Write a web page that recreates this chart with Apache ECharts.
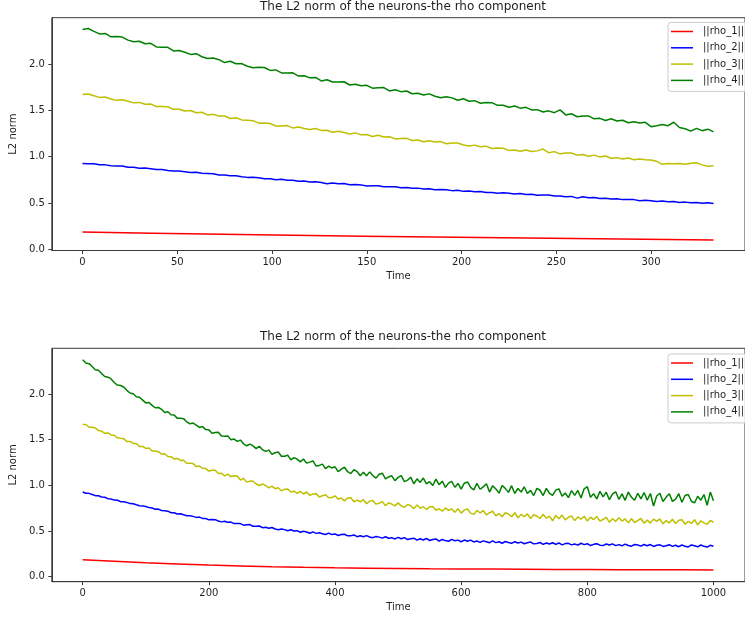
<!DOCTYPE html>
<html>
<head>
<meta charset="utf-8">
<script src="https://cdn.jsdelivr.net/npm/echarts@6/dist/echarts.min.js"></script>
<style>
  html, body { margin: 0; padding: 0; background: #ffffff; }
  #chart { width: 745px; height: 618px; }
</style>
</head>
<body>
<div id="chart"></div>
<script>
// Labels and ticks
const chartTitle = 'The L2 norm of the neurons-the rho component';
const seriesNames = ['||rho_1||', '||rho_2||', '||rho_3||', '||rho_4||'];
const seriesColors = ['#ff0000', '#0000ff', '#bfbf00', '#008000'];
const yTicks = [0, 0.5, 1, 1.5, 2];
const topXTicks = [0, 50, 100, 150, 200, 250, 300];
const bottomXTicks = [0, 200, 400, 600, 800, 1000];

// Upper panel: sampled every 3 time units (t = 0 .. 333)
const topStep = 3;
const topRho4 = [
  2.372, 2.383, 2.353, 2.325, 2.330, 2.294, 2.296, 2.291, 2.258, 2.240,
  2.246, 2.219, 2.223, 2.185, 2.180, 2.180, 2.141, 2.146, 2.127, 2.104,
  2.112, 2.079, 2.059, 2.065, 2.047, 2.016, 2.030, 2.003, 2.005, 1.976,
  1.961, 1.966, 1.963, 1.931, 1.937, 1.904, 1.902, 1.905, 1.870, 1.873,
  1.851, 1.855, 1.818, 1.831, 1.806, 1.806, 1.809, 1.774, 1.782, 1.765,
  1.770, 1.740, 1.745, 1.746, 1.710, 1.723, 1.702, 1.709, 1.679, 1.685,
  1.665, 1.678, 1.653, 1.636, 1.648, 1.635, 1.609, 1.625, 1.599, 1.605,
  1.577, 1.586, 1.583, 1.554, 1.556, 1.533, 1.547, 1.524, 1.533, 1.505,
  1.508, 1.483, 1.495, 1.475, 1.505, 1.451, 1.464, 1.431, 1.440, 1.440,
  1.409, 1.414, 1.391, 1.409, 1.385, 1.394, 1.366, 1.378, 1.363, 1.371,
  1.324, 1.335, 1.347, 1.335, 1.372, 1.315, 1.302, 1.276, 1.306, 1.281,
  1.297, 1.268
];
const topRho3 = [
  1.672, 1.677, 1.658, 1.640, 1.645, 1.623, 1.608, 1.614, 1.599, 1.581,
  1.586, 1.567, 1.568, 1.542, 1.542, 1.539, 1.511, 1.513, 1.494, 1.498,
  1.474, 1.480, 1.451, 1.457, 1.440, 1.439, 1.413, 1.421, 1.397, 1.393,
  1.389, 1.362, 1.363, 1.358, 1.332, 1.331, 1.336, 1.311, 1.320, 1.305,
  1.293, 1.304, 1.284, 1.286, 1.264, 1.274, 1.262, 1.246, 1.257, 1.236,
  1.239, 1.219, 1.232, 1.212, 1.215, 1.192, 1.197, 1.198, 1.175, 1.181,
  1.161, 1.172, 1.158, 1.163, 1.140, 1.147, 1.148, 1.127, 1.115, 1.125,
  1.107, 1.114, 1.088, 1.093, 1.091, 1.068, 1.073, 1.058, 1.072, 1.057,
  1.063, 1.083, 1.043, 1.055, 1.031, 1.040, 1.040, 1.017, 1.023, 1.005,
  1.017, 0.998, 1.008, 0.984, 0.990, 0.976, 0.987, 0.968, 0.975, 0.967,
  0.964, 0.950, 0.918, 0.926, 0.924, 0.927, 0.919, 0.930, 0.935, 0.912,
  0.897, 0.902
];
const topRho2 = [
  0.928, 0.924, 0.923, 0.913, 0.912, 0.902, 0.901, 0.899, 0.887, 0.886,
  0.875, 0.877, 0.870, 0.861, 0.863, 0.852, 0.845, 0.847, 0.839, 0.830,
  0.832, 0.821, 0.820, 0.816, 0.803, 0.803, 0.794, 0.795, 0.785, 0.777,
  0.779, 0.774, 0.762, 0.761, 0.752, 0.756, 0.746, 0.746, 0.735, 0.737,
  0.728, 0.731, 0.722, 0.709, 0.717, 0.708, 0.710, 0.698, 0.699, 0.696,
  0.685, 0.688, 0.686, 0.676, 0.676, 0.676, 0.664, 0.667, 0.659, 0.661,
  0.651, 0.655, 0.643, 0.645, 0.643, 0.634, 0.637, 0.626, 0.629, 0.622,
  0.624, 0.614, 0.615, 0.606, 0.610, 0.605, 0.597, 0.602, 0.592, 0.594,
  0.584, 0.587, 0.586, 0.576, 0.577, 0.569, 0.572, 0.553, 0.567, 0.557,
  0.559, 0.549, 0.552, 0.545, 0.547, 0.537, 0.538, 0.537, 0.526, 0.529,
  0.526, 0.517, 0.521, 0.514, 0.517, 0.507, 0.510, 0.503, 0.507, 0.498,
  0.502, 0.494
];
const topRho1Time = [0, 37, 74, 111, 148, 185, 222, 259, 296, 333];
const topRho1 = [0.187, 0.174, 0.162, 0.152, 0.143, 0.134, 0.126, 0.118, 0.110, 0.101];

// Lower panel: sampled every 5 time units (t = 0 .. 1000)
const bottomStep = 5;
const bottomRho4 = [
  2.374, 2.340, 2.332, 2.300, 2.266, 2.259, 2.223, 2.192, 2.184, 2.165,
  2.126, 2.097, 2.093, 2.076, 2.040, 2.011, 2.003, 1.970, 1.964, 1.933,
  1.902, 1.907, 1.875, 1.849, 1.853, 1.832, 1.797, 1.806, 1.773, 1.769,
  1.733, 1.734, 1.730, 1.694, 1.674, 1.682, 1.659, 1.634, 1.644, 1.610,
  1.608, 1.570, 1.579, 1.582, 1.540, 1.536, 1.541, 1.498, 1.506, 1.481,
  1.495, 1.455, 1.433, 1.452, 1.432, 1.402, 1.428, 1.390, 1.371, 1.386,
  1.339, 1.357, 1.365, 1.319, 1.318, 1.330, 1.278, 1.304, 1.286, 1.257,
  1.288, 1.243, 1.254, 1.267, 1.211, 1.218, 1.232, 1.183, 1.210, 1.190,
  1.203, 1.149, 1.177, 1.198, 1.149, 1.129, 1.171, 1.151, 1.105, 1.144,
  1.105, 1.147, 1.107, 1.079, 1.121, 1.133, 1.071, 1.092, 1.104, 1.051,
  1.087, 1.107, 1.040, 1.057, 1.089, 1.017, 1.071, 1.032, 1.080, 1.017,
  1.040, 0.998, 1.067, 1.007, 1.045, 0.978, 1.024, 1.043, 0.979, 1.021,
  0.959, 1.023, 1.037, 0.977, 0.951, 1.021, 0.957, 0.983, 1.017, 0.926,
  0.996, 0.959, 0.915, 0.998, 0.967, 0.923, 0.996, 0.911, 0.965, 0.927,
  0.984, 0.910, 0.945, 0.888, 0.967, 0.946, 0.888, 0.967, 0.913, 0.889,
  0.947, 0.961, 0.880, 0.916, 0.865, 0.943, 0.889, 0.944, 0.862, 0.962,
  0.985, 0.869, 0.909, 0.851, 0.934, 0.873, 0.925, 0.843, 0.906, 0.929,
  0.847, 0.906, 0.836, 0.926, 0.869, 0.837, 0.913, 0.851, 0.921, 0.837,
  0.910, 0.774, 0.883, 0.913, 0.822, 0.871, 0.908, 0.824, 0.850, 0.908,
  0.815, 0.889, 0.900, 0.826, 0.808, 0.880, 0.837, 0.899, 0.782, 0.926,
  0.830
];
const bottomRho3 = [
  1.667, 1.666, 1.636, 1.635, 1.628, 1.599, 1.594, 1.569, 1.573, 1.552,
  1.548, 1.520, 1.515, 1.511, 1.479, 1.480, 1.458, 1.458, 1.426, 1.426,
  1.404, 1.408, 1.375, 1.375, 1.368, 1.343, 1.346, 1.315, 1.314, 1.287,
  1.294, 1.272, 1.274, 1.242, 1.243, 1.238, 1.205, 1.211, 1.187, 1.183,
  1.156, 1.166, 1.166, 1.130, 1.132, 1.104, 1.122, 1.096, 1.104, 1.102,
  1.058, 1.076, 1.035, 1.046, 1.045, 1.015, 0.998, 1.015, 0.996, 0.972,
  0.991, 0.963, 0.973, 0.940, 0.956, 0.960, 0.927, 0.936, 0.911, 0.933,
  0.905, 0.927, 0.890, 0.906, 0.909, 0.873, 0.886, 0.896, 0.864, 0.866,
  0.885, 0.849, 0.862, 0.830, 0.862, 0.864, 0.820, 0.838, 0.820, 0.843,
  0.799, 0.827, 0.835, 0.794, 0.803, 0.822, 0.777, 0.809, 0.794, 0.775,
  0.808, 0.774, 0.758, 0.791, 0.776, 0.745, 0.785, 0.749, 0.766, 0.735,
  0.764, 0.769, 0.727, 0.744, 0.716, 0.753, 0.726, 0.741, 0.706, 0.743,
  0.696, 0.728, 0.741, 0.696, 0.682, 0.725, 0.698, 0.724, 0.677, 0.700,
  0.716, 0.666, 0.690, 0.656, 0.699, 0.686, 0.657, 0.700, 0.645, 0.681,
  0.657, 0.688, 0.636, 0.678, 0.662, 0.637, 0.683, 0.641, 0.663, 0.612,
  0.670, 0.633, 0.674, 0.621, 0.650, 0.665, 0.614, 0.654, 0.629, 0.662,
  0.609, 0.652, 0.625, 0.658, 0.609, 0.626, 0.650, 0.597, 0.634, 0.606,
  0.646, 0.609, 0.632, 0.589, 0.636, 0.594, 0.615, 0.637, 0.585, 0.619,
  0.586, 0.630, 0.605, 0.633, 0.579, 0.614, 0.588, 0.628, 0.581, 0.618,
  0.623, 0.574, 0.605, 0.583, 0.624, 0.566, 0.612, 0.589, 0.573, 0.615,
  0.596
];
const bottomRho2 = [
  0.927, 0.914, 0.912, 0.900, 0.887, 0.886, 0.873, 0.870, 0.854, 0.850,
  0.838, 0.837, 0.821, 0.819, 0.813, 0.800, 0.799, 0.787, 0.776, 0.775,
  0.769, 0.756, 0.751, 0.739, 0.740, 0.725, 0.722, 0.717, 0.700, 0.699,
  0.687, 0.689, 0.677, 0.666, 0.668, 0.660, 0.649, 0.652, 0.638, 0.637,
  0.622, 0.627, 0.624, 0.609, 0.600, 0.607, 0.595, 0.598, 0.581, 0.582,
  0.581, 0.564, 0.568, 0.570, 0.552, 0.552, 0.555, 0.536, 0.542, 0.531,
  0.538, 0.522, 0.514, 0.523, 0.515, 0.503, 0.514, 0.500, 0.504, 0.486,
  0.497, 0.489, 0.476, 0.490, 0.474, 0.480, 0.471, 0.462, 0.477, 0.461,
  0.468, 0.451, 0.461, 0.464, 0.447, 0.449, 0.457, 0.438, 0.448, 0.437,
  0.449, 0.435, 0.427, 0.440, 0.433, 0.422, 0.437, 0.421, 0.427, 0.413,
  0.430, 0.415, 0.428, 0.406, 0.416, 0.421, 0.400, 0.415, 0.401, 0.418,
  0.396, 0.407, 0.413, 0.390, 0.407, 0.395, 0.388, 0.408, 0.393, 0.400,
  0.382, 0.401, 0.388, 0.400, 0.380, 0.390, 0.375, 0.392, 0.383, 0.372,
  0.391, 0.373, 0.382, 0.366, 0.385, 0.374, 0.365, 0.383, 0.368, 0.378,
  0.360, 0.372, 0.379, 0.359, 0.364, 0.374, 0.353, 0.369, 0.357, 0.371,
  0.353, 0.369, 0.348, 0.362, 0.365, 0.348, 0.357, 0.345, 0.366, 0.351,
  0.361, 0.341, 0.354, 0.361, 0.345, 0.340, 0.358, 0.346, 0.359, 0.340,
  0.351, 0.338, 0.357, 0.341, 0.334, 0.352, 0.346, 0.334, 0.352, 0.339,
  0.352, 0.331, 0.344, 0.349, 0.331, 0.338, 0.350, 0.332, 0.344, 0.328,
  0.347, 0.332, 0.326, 0.347, 0.338, 0.327, 0.347, 0.332, 0.324, 0.343,
  0.334
];
const bottomRho1Time = [0, 50, 100, 150, 200, 250, 300, 350, 400, 450, 500,
  550, 600, 650, 700, 750, 800, 850, 900, 950, 1000];
const bottomRho1 = [0.185, 0.168, 0.152, 0.139, 0.127, 0.118, 0.110, 0.103, 0.097, 0.093, 0.090,
  0.087, 0.085, 0.083, 0.081, 0.079, 0.078, 0.077, 0.076, 0.075, 0.074];

// Pair a regularly sampled series with its time stamps
function sampled(values, step) {
  return values.map((v, i) => [i * step, v]);
}
function paired(times, values) {
  return times.map((t, i) => [t, values[i]]);
}

const FONT = 'DejaVu Sans';
const TEXT = '#1f1f1f';
const FRAME = '#3a3a3a';

function xAxisFor(gridIndex, min, max, ticks) {
  return {
    type: 'value', gridIndex, min, max,
    name: 'Time', nameLocation: 'middle', nameGap: 21,
    nameTextStyle: { fontFamily: FONT, fontSize: 10, color: TEXT },
    axisLine: { show: true, onZero: false, lineStyle: { color: FRAME, width: 1 } },
    axisTick: { show: true, length: 3.5, customValues: ticks, lineStyle: { color: FRAME, width: 1 } },
    axisLabel: { customValues: ticks, margin: 7, fontFamily: FONT, fontSize: 10, color: TEXT,
      formatter: v => String(v) },
    splitLine: { show: false }
  };
}
function yAxisFor(gridIndex, min, max) {
  return {
    type: 'value', gridIndex, min, max,
    name: 'L2 norm', nameLocation: 'middle', nameGap: 26,
    nameTextStyle: { fontFamily: FONT, fontSize: 10, color: TEXT },
    axisLine: { show: true, onZero: false, lineStyle: { color: FRAME, width: 1 } },
    axisTick: { show: true, length: 3.5, customValues: yTicks, lineStyle: { color: FRAME, width: 1 } },
    axisLabel: { customValues: yTicks, margin: 7, fontFamily: FONT, fontSize: 10, color: TEXT,
      formatter: v => v.toFixed(1) },
    splitLine: { show: false }
  };
}
function legendAt(top) {
  return {
    orient: 'vertical', left: 668, top,
    data: seriesNames, icon: 'rect', itemWidth: 22, itemHeight: 1.5, itemGap: 0.3,
    padding: [1, 4, 3, 3],
    borderColor: '#cccccc', borderWidth: 1, borderRadius: 3, backgroundColor: 'rgba(255,255,255,0.8)',
    textStyle: { fontFamily: FONT, fontSize: 10, color: TEXT, lineHeight: 16, padding: [0, 0, 0, 5] }
  };
}
function line(name, color, idx, data) {
  return {
    type: 'line', name, xAxisIndex: idx, yAxisIndex: idx, data,
    showSymbol: false, symbol: 'none', smooth: false,
    lineStyle: { color, width: 1.5 }, itemStyle: { color },
    emphasis: { disabled: true }, z: 3
  };
}

const chart = echarts.init(document.getElementById('chart'), null, { renderer: 'canvas' });
chart.setOption({
  animation: false,
  backgroundColor: '#ffffff',
  title: [
    { text: chartTitle, left: 403, top: 0.5, textAlign: 'center', padding: 0,
      textStyle: { fontFamily: FONT, fontSize: 12, fontWeight: 'normal', color: TEXT } },
    { text: chartTitle, left: 403, top: 331, textAlign: 'center', padding: 0,
      textStyle: { fontFamily: FONT, fontSize: 12, fontWeight: 'normal', color: TEXT } }
  ],
  legend: [legendAt(22.5), legendAt(354)],
  grid: [
    { left: 51, top: 17.7, width: 706, height: 232.8, show: true, borderColor: FRAME, borderWidth: 1, backgroundColor: 'transparent' },
    { left: 51, top: 348.3, width: 704, height: 233.4, show: true, borderColor: FRAME, borderWidth: 1, backgroundColor: 'transparent' }
  ],
  xAxis: [xAxisFor(0, -16.2, 349.6, topXTicks), xAxisFor(1, -49, 1050, bottomXTicks)],
  yAxis: [yAxisFor(0, -0.012, 2.5), yAxisFor(1, -0.055, 2.5)],
  series: [
    line(seriesNames[0], seriesColors[0], 0, paired(topRho1Time, topRho1)),
    line(seriesNames[1], seriesColors[1], 0, sampled(topRho2, topStep)),
    line(seriesNames[2], seriesColors[2], 0, sampled(topRho3, topStep)),
    line(seriesNames[3], seriesColors[3], 0, sampled(topRho4, topStep)),
    line(seriesNames[0], seriesColors[0], 1, paired(bottomRho1Time, bottomRho1)),
    line(seriesNames[1], seriesColors[1], 1, sampled(bottomRho2, bottomStep)),
    line(seriesNames[2], seriesColors[2], 1, sampled(bottomRho3, bottomStep)),
    line(seriesNames[3], seriesColors[3], 1, sampled(bottomRho4, bottomStep))
  ]
});
</script>
</body>
</html>
